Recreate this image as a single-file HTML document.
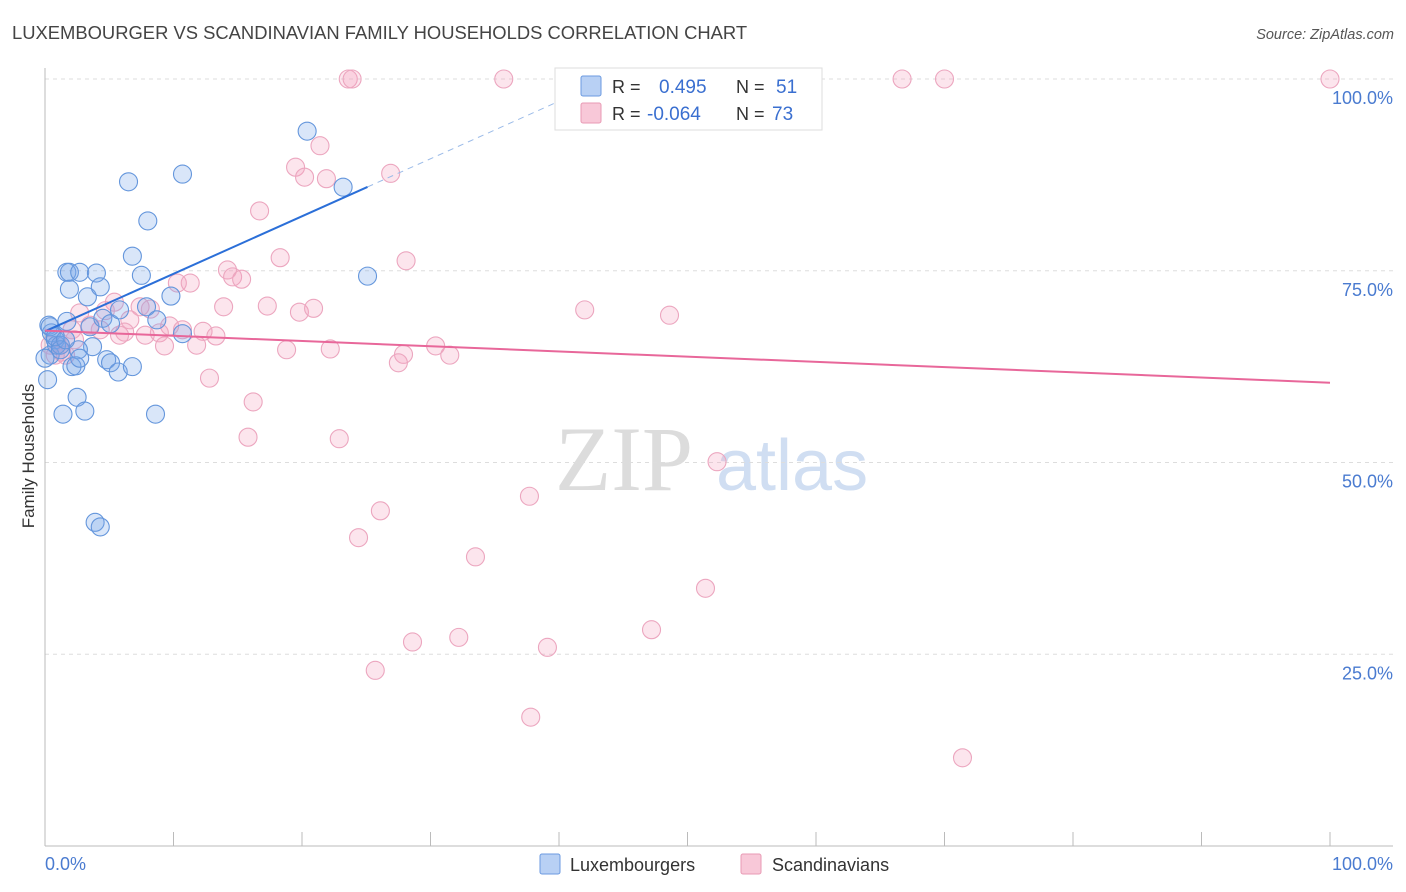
<!DOCTYPE html>
<html><head><meta charset="utf-8"><style>
body{margin:0;background:#fff;font-family:"Liberation Sans",sans-serif}
svg{display:block}
</style></head><body>
<svg id="c" width="1406" height="892" xmlns="http://www.w3.org/2000/svg">
<text x="12" y="39" font-size="18.4" fill="#444">LUXEMBOURGER VS SCANDINAVIAN FAMILY HOUSEHOLDS CORRELATION CHART</text>
<text x="1394" y="39" font-size="14.5" fill="#555" font-style="italic" text-anchor="end">Source: ZipAtlas.com</text>
<text x="34" y="456" font-size="17" fill="#333" text-anchor="middle" transform="rotate(-90 34 456)">Family Households</text>
<g>
<text x="555" y="490" font-size="92" font-family="Liberation Serif,serif" fill="#dcdcdc">ZIP</text>
<text x="716" y="490" font-size="72" fill="#d0def2">atlas</text>
</g>
<g id="grid"></g><g id="marks"></g>
<g>
<rect x="555" y="68" width="267" height="62" fill="#fff" stroke="#ddd"/>
<rect x="581" y="76" width="20" height="20" fill="#b8d0f4" stroke="#6b9ae0" rx="2"/>
<rect x="581" y="103" width="20" height="20" fill="#f8c8d8" stroke="#e89ab4" rx="2"/>
<text x="612" y="93" font-size="18" fill="#333">R = </text><text x="659" y="93" font-size="19" fill="#3a6fd0">0.495</text>
<text x="736" y="93" font-size="18" fill="#333">N = </text><text x="776" y="93" font-size="19" fill="#3a6fd0">51</text>
<text x="612" y="120" font-size="18" fill="#333">R = </text><text x="647" y="120" font-size="19" fill="#3a6fd0">-0.064</text>
<text x="736" y="120" font-size="18" fill="#333">N = </text><text x="772" y="120" font-size="19" fill="#3a6fd0">73</text>
</g>
<g>
<rect x="540" y="854" width="20" height="20" fill="#b8d0f4" stroke="#6b9ae0" rx="2"/>
<text x="570" y="871" font-size="18" fill="#333">Luxembourgers</text>
<rect x="741" y="854" width="20" height="20" fill="#f8c8d8" stroke="#e89ab4" rx="2"/>
<text x="772" y="871" font-size="18" fill="#333">Scandinavians</text>
</g>
</svg>
<script>
const blueX=[0.3,0.5,0.8,0.4,0.2,0.9,1.2,1.7,1.9,2.7,4.0,1.9,3.3,4.3,1.7,3.5,4.5,5.1,5.8,3.7,2.6,2.1,2.4,2.7,4.8,5.1,5.7,6.8,2.5,3.1,1.4,3.9,4.3,6.5,8.0,6.8,7.5,7.9,8.7,9.8,10.7,8.6,10.7,20.4,23.2,25.1,0.4,0.8,0,1.2,1.6];
const blueY=[67.9,66.9,66.0,64.0,60.8,65.3,65.3,74.8,74.8,74.8,74.7,72.6,71.6,72.9,68.4,67.7,68.8,68.1,69.9,65.1,64.7,62.5,62.6,63.6,63.4,63.0,61.8,62.5,58.5,56.7,56.3,42.2,41.6,86.6,81.5,76.9,74.4,70.3,68.6,71.7,66.8,56.3,87.6,93.2,85.9,74.3,67.7,66.4,63.6,64.7,66.0];
const pinkX=[23.6,23.9,35.7,66.7,70.0,100,19.5,21.4,20.2,21.9,26.9,16.7,18.3,28.1,14.2,14.6,15.3,10.3,11.3,5.4,7.4,8.2,13.9,17.3,19.8,20.9,42.0,48.6,2.7,4.7,6.6,9.7,10.7,12.3,13.3,2.1,4.3,6.2,7.8,8.9,9.3,11.8,18.8,22.2,27.9,30.4,31.5,27.5,1.2,0.8,1.6,0.4,12.8,16.2,15.8,22.9,52.3,37.7,26.1,24.4,33.5,51.4,47.2,32.2,28.6,39.1,25.7,37.8,71.4,1.3,2.3,3.5,5.8];
const pinkY=[100,100,100,100,100,100,88.5,91.3,87.2,87.0,87.7,82.8,76.7,76.3,75.1,74.2,73.9,73.4,73.4,70.9,70.3,70.0,70.3,70.4,69.6,70.1,69.9,69.2,69.5,69.8,68.6,67.8,67.3,67.1,66.5,67.3,67.3,67.0,66.6,66.9,65.2,65.3,64.7,64.8,64.1,65.2,64.0,63.0,65.3,64.0,64.0,65.3,61.0,57.9,53.3,53.1,50.1,45.6,43.7,40.2,37.7,33.6,28.2,27.2,26.6,25.9,22.9,16.8,11.5,64.4,66.0,67.9,66.6];
const yTicks=[25,50,75,100];
const xTickVals=[0,10,20,30,40,50,60,70,80,90,100];
const blueTrend=[67.1,0.75];
const pinkTrend=[67.2,-0.068];
const NS="http://www.w3.org/2000/svg";
const X=v=>45+v*12.85, Y=v=>846-v*7.67;
function mk(t,a,p){const e=document.createElementNS(NS,t);for(const k in a)e.setAttribute(k,a[k]);p.appendChild(e);return e;}
const g=document.getElementById('grid'),m=document.getElementById('marks');
yTicks.forEach(t=>{
 const l=mk('line',{x1:45,x2:1393,y1:Y(t),y2:Y(t),stroke:'#ddd','stroke-dasharray':'4,4'},g);
 
 
 const tx=mk('text',{x:1393,y:Y(t)+25,'font-size':18,fill:'#4a7bd0','text-anchor':'end'},g);
 tx.textContent=t.toFixed(1)+'%';
 
 
});
mk('line',{x1:45,x2:45,y1:68,y2:846,stroke:'#bbb'},g);
mk('line',{x1:45,x2:1393,y1:846,y2:846,stroke:'#bbb'},g);
xTickVals.forEach(t=>{const l=mk('line',{x1:X(t),x2:X(t),y1:832,y2:846,stroke:'#bbb'},g);
 
 });
const a=mk('text',{x:45,y:870,'font-size':18,fill:'#4a7bd0'},g);a.textContent='0.0%';


const b=mk('text',{x:1393,y:870,'font-size':18,fill:'#4a7bd0','text-anchor':'end'},g);b.textContent='100.0%';


pinkX.forEach((v,i)=>{const c=mk('circle',{cx:X(v),cy:Y(pinkY[i]),r:9,fill:'rgba(244,160,190,0.28)',stroke:'#eca6bf','stroke-width':1.1},m);
 
 });
blueX.forEach((v,i)=>{const c=mk('circle',{cx:X(v),cy:Y(blueY[i]),r:9,fill:'rgba(120,165,235,0.28)',stroke:'#6496dc','stroke-width':1.1},m);
 
 });
const bEnd=25.1, bDash=(100-blueTrend[0])/blueTrend[1];
const bl=mk('line',{x1:X(0),y1:Y(blueTrend[0]),x2:X(bEnd),y2:Y(blueTrend[0]+blueTrend[1]*bEnd),stroke:'#2b6fd8','stroke-width':2},m);


const bd=mk('line',{x1:X(bEnd),y1:Y(blueTrend[0]+blueTrend[1]*bEnd),x2:X(bDash),y2:Y(100),stroke:'#9bbbe8','stroke-width':1,'stroke-dasharray':'6,5'},m);


const pl=mk('line',{x1:X(0),y1:Y(pinkTrend[0]),x2:X(100),y2:Y(pinkTrend[0]+pinkTrend[1]*100),stroke:'#e8679a','stroke-width':2},m);


</script>
</body></html>
